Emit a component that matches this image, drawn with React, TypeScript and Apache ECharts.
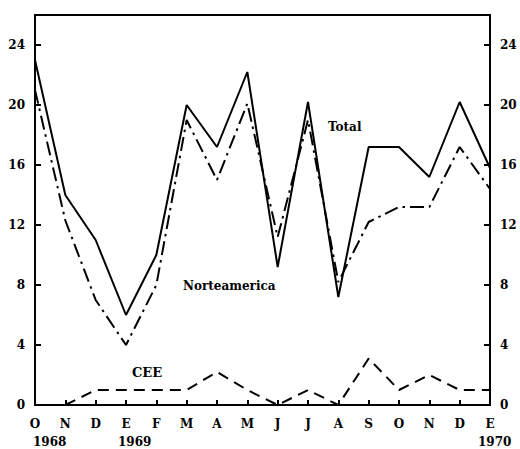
import React, { useEffect, useRef } from "react";
import * as echarts from "echarts";

const categories = ["O", "N", "D", "E", "F", "M", "A", "M", "J", "J", "A", "S", "O", "N", "D", "E"];
const totalValues = [23, 14, 11, 6, 10, 20, 17.2, 22.2, 9.2, 20.2, 7.2, 17.2, 17.2, 15.2, 20.2, 15.8];
const norteValues = [21, 12.3, 7, 4, 8, 19, 15, 20.1, 11.2, 19, 8.2, 12.2, 13.2, 13.2, 17.2, 14.4];
const ceeValues = [null, 0, 1, 1, 1, 1, 2.2, 1, 0, 1, 0, 3.1, 1, 2, 1, 1];
const yearLabels = ["1968", "1969", "1970"];
const seriesNames = ["Total", "Norteamerica", "CEE"];

const FONT = "DejaVu Serif";

export default function App() {
  const ref = useRef<HTMLDivElement>(null);
  useEffect(() => {
    if (!ref.current) return;
    const chart = echarts.init(ref.current, undefined, { renderer: "svg" });
    const yAxisCommon = {
      type: "value",
      min: 0,
      max: 26,
      interval: 4,
      splitLine: { show: false },
      axisLine: { show: true, lineStyle: { color: "#000", width: 2 } },
      axisTick: { show: true, inside: true, length: 6, lineStyle: { color: "#000", width: 2 } },
      axisLabel: {
        color: "#000",
        fontFamily: FONT,
        fontWeight: "bold",
        fontSize: 12,
        margin: 10,
        formatter: (v: number) => (v > 24 ? "" : String(v)),
      },
    };
    chart.setOption({
      animation: false,
      backgroundColor: "#fff",
      grid: {
        left: 35,
        right: 30,
        top: 15,
        bottom: 44,
        show: true,
        borderColor: "#000",
        borderWidth: 2,
        backgroundColor: "transparent",
      },
      xAxis: {
        type: "category",
        data: categories,
        boundaryGap: false,
        axisLine: { show: true, lineStyle: { color: "#000", width: 2 } },
        axisTick: { show: true, inside: true, length: 5, lineStyle: { color: "#000", width: 2 } },
        axisLabel: {
          color: "#000",
          fontFamily: FONT,
          fontWeight: "bold",
          fontSize: 12,
          margin: 13,
          interval: 0,
        },
        splitLine: { show: false },
      },
      yAxis: [
        { ...yAxisCommon, position: "left" },
        { ...yAxisCommon, position: "right" },
      ],
      series: [
        {
          name: seriesNames[0],
          type: "line",
          data: totalValues,
          showSymbol: false,
          lineStyle: { color: "#000", width: 2, type: "solid" },
        },
        {
          name: seriesNames[1],
          type: "line",
          data: norteValues,
          showSymbol: false,
          lineStyle: { color: "#000", width: 2, type: [14, 5, 2.5, 5] },
        },
        {
          name: seriesNames[2],
          type: "line",
          data: ceeValues,
          showSymbol: false,
          lineStyle: { color: "#000", width: 2, type: [11, 7] },
        },
      ],
      graphic: [
        {
          type: "text",
          left: 328,
          top: 121,
          style: { text: seriesNames[0], fill: "#000", font: `bold 12px "${FONT}"` },
        },
        {
          type: "text",
          left: 183,
          top: 280,
          style: { text: seriesNames[1], fill: "#000", font: `bold 12px "${FONT}"` },
        },
        {
          type: "text",
          left: 132,
          top: 366,
          style: { text: seriesNames[2], fill: "#000", font: `bold 13px "${FONT}"` },
        },
        {
          type: "text",
          left: 33,
          top: 436,
          style: { text: yearLabels[0], fill: "#000", font: `bold 12px "${FONT}"` },
        },
        {
          type: "text",
          left: 118,
          top: 436,
          style: { text: yearLabels[1], fill: "#000", font: `bold 12px "${FONT}"` },
        },
        {
          type: "text",
          left: 478,
          top: 436,
          style: { text: yearLabels[2], fill: "#000", font: `bold 12px "${FONT}"` },
        },
      ],
    });
    return () => chart.dispose();
  }, []);
  return <div ref={ref} style={{ width: 520, height: 449, position: "absolute", left: 0, top: 0 }} />;
}
